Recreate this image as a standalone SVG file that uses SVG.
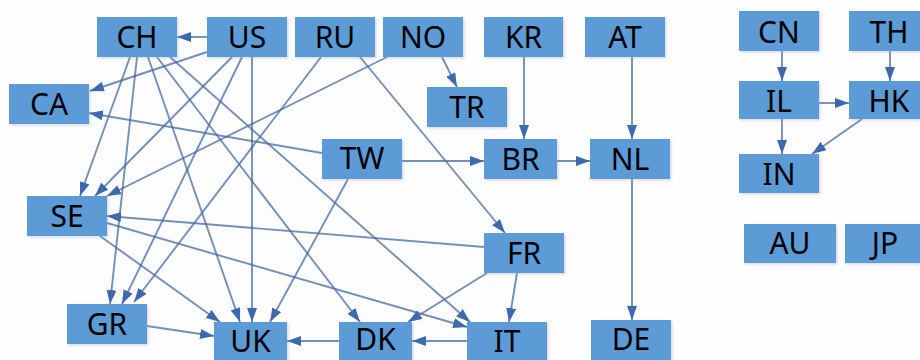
<svg xmlns="http://www.w3.org/2000/svg" width="920" height="360" viewBox="0 0 920 360">
  <defs>
    <marker id="arrow" markerUnits="userSpaceOnUse" markerWidth="14" markerHeight="10" refX="14" refY="5" orient="auto">
      <path d="M0,0 L14,5 L0,10 Z" fill="#3f69ad"/>
    </marker>
    <filter id="shadow" x="-10%" y="-10%" width="130%" height="140%">
      <feDropShadow dx="1.5" dy="1.5" stdDeviation="1.2" flood-color="#8a9bb0" flood-opacity="0.35"/>
    </filter>
    <style>
      .node rect { fill: #5b9bd5; filter: url(#shadow); }
      .node text { font-family: "Noto Sans", "Open Sans", sans-serif; font-size: 30px; fill: #000; text-anchor: middle; }
      #connectors line { stroke: #46699f; stroke-opacity: 0.75; stroke-width: 1.9; fill: none; marker-end: url(#arrow); }
    </style>
  </defs>

  <rect width="920" height="360" fill="#fdfdfe"/>

  <g id="connectors">
    <line x1="207" y1="37" x2="177" y2="37"/>
    <line x1="207" y1="52" x2="90" y2="91"/>
    <line x1="322" y1="153" x2="89" y2="113"/>
    <line x1="130" y1="57" x2="80" y2="196"/>
    <line x1="232" y1="57" x2="95" y2="196"/>
    <line x1="387" y1="57" x2="107" y2="196"/>
    <line x1="137" y1="57" x2="110" y2="304"/>
    <line x1="242" y1="57" x2="122" y2="304"/>
    <line x1="321" y1="57" x2="134" y2="302"/>
    <line x1="148" y1="57" x2="240" y2="322"/>
    <line x1="252" y1="57" x2="252" y2="322"/>
    <line x1="348" y1="179" x2="270" y2="322"/>
    <line x1="100" y1="236" x2="220" y2="322"/>
    <line x1="147" y1="326" x2="214" y2="336"/>
    <line x1="339" y1="341" x2="287" y2="341"/>
    <line x1="157" y1="57" x2="360" y2="322"/>
    <line x1="170" y1="57" x2="470" y2="322"/>
    <line x1="487" y1="273" x2="408" y2="322"/>
    <line x1="517" y1="273" x2="509" y2="322"/>
    <line x1="107" y1="223" x2="467" y2="327"/>
    <line x1="467" y1="341" x2="412" y2="341"/>
    <line x1="484" y1="247" x2="107" y2="216"/>
    <line x1="360" y1="57" x2="505" y2="233"/>
    <line x1="402" y1="161" x2="484" y2="161"/>
    <line x1="557" y1="161" x2="590" y2="161"/>
    <line x1="524" y1="57" x2="524" y2="139"/>
    <line x1="632" y1="57" x2="632" y2="139"/>
    <line x1="632" y1="179" x2="632" y2="320"/>
    <line x1="442" y1="57" x2="457" y2="87"/>
    <line x1="782" y1="51" x2="782" y2="81"/>
    <line x1="890" y1="51" x2="890" y2="81"/>
    <line x1="819" y1="103" x2="849" y2="103"/>
    <line x1="782" y1="119" x2="782" y2="154"/>
    <line x1="862" y1="119" x2="812" y2="154"/>
  </g>

  <g id="CH" class="node"><rect x="97" y="17" width="80" height="40"/><text x="137" y="48">CH</text></g>
  <g id="US" class="node"><rect x="207" y="17" width="80" height="40"/><text x="247" y="48">US</text></g>
  <g id="RU" class="node"><rect x="295" y="17" width="80" height="40"/><text x="335" y="48">RU</text></g>
  <g id="NO" class="node"><rect x="383" y="17" width="80" height="40"/><text x="423" y="48">NO</text></g>
  <g id="KR" class="node"><rect x="484" y="17" width="79" height="40"/><text x="523.5" y="48">KR</text></g>
  <g id="AT" class="node"><rect x="585" y="17" width="80" height="40"/><text x="625" y="48">AT</text></g>
  <g id="TR" class="node"><rect x="427" y="87" width="80" height="40"/><text x="467" y="118">TR</text></g>
  <g id="CA" class="node"><rect x="9" y="84" width="80" height="40"/><text x="49" y="115">CA</text></g>
  <g id="TW" class="node"><rect x="322" y="139" width="80" height="40"/><text x="362" y="169">TW</text></g>
  <g id="BR" class="node"><rect x="484" y="139" width="73" height="40"/><text x="520.5" y="170">BR</text></g>
  <g id="NL" class="node"><rect x="590" y="139" width="80" height="40"/><text x="630" y="170">NL</text></g>
  <g id="SE" class="node"><rect x="27" y="196" width="80" height="40"/><text x="67" y="227">SE</text></g>
  <g id="FR" class="node"><rect x="484" y="233" width="80" height="40"/><text x="524" y="264">FR</text></g>
  <g id="GR" class="node"><rect x="67" y="304" width="80" height="40"/><text x="107" y="335">GR</text></g>
  <g id="UK" class="node"><rect x="214" y="322" width="73" height="40"/><text x="250.5" y="352">UK</text></g>
  <g id="DK" class="node"><rect x="339" y="322" width="73" height="40"/><text x="375.5" y="350">DK</text></g>
  <g id="IT" class="node"><rect x="467" y="322" width="80" height="40"/><text x="507" y="352">IT</text></g>
  <g id="DE" class="node"><rect x="591" y="320" width="80" height="40"/><text x="631" y="350">DE</text></g>
  <g id="CN" class="node"><rect x="739" y="11" width="80" height="40"/><text x="779" y="43">CN</text></g>
  <g id="TH" class="node"><rect x="849" y="11" width="80" height="40"/><text x="889" y="43">TH</text></g>
  <g id="IL" class="node"><rect x="739" y="81" width="80" height="38"/><text x="779" y="112">IL</text></g>
  <g id="HK" class="node"><rect x="849" y="81" width="80" height="38"/><text x="889" y="112">HK</text></g>
  <g id="IN" class="node"><rect x="739" y="154" width="80" height="39"/><text x="779" y="185">IN</text></g>
  <g id="AU" class="node"><rect x="744" y="224" width="92" height="39"/><text x="790" y="254">AU</text></g>
  <g id="JP" class="node"><rect x="845" y="224" width="80" height="39"/><text x="885" y="254">JP</text></g>
</svg>
